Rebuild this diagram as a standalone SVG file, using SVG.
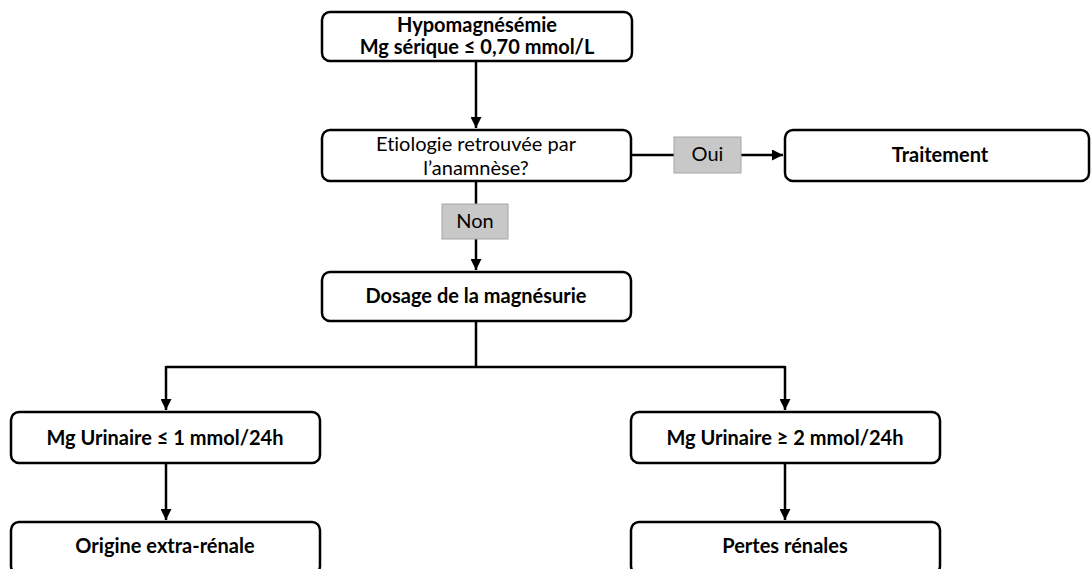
<svg xmlns="http://www.w3.org/2000/svg" width="1092" height="569" viewBox="0 0 1092 569">
<defs>
<marker id="arr" viewBox="0 0 10 10" refX="10" refY="5" markerWidth="4.4" markerHeight="4.4" orient="auto" markerUnits="strokeWidth">
<path d="M0,0 L10,5 L0,10 z" fill="#000"/>
</marker>
<style>
.box{fill:#fff;stroke:#000;stroke-width:2.5}
.lbl{fill:#c8c8c8;stroke:#a6a6a6;stroke-width:1}
.t{font-family:"Lato","Liberation Sans",sans-serif;font-size:20px;fill:#000;text-anchor:middle;font-variant-ligatures:none}
.b{font-weight:bold}
.c{fill:none;stroke:#000;stroke-width:2.5}
</style>
</defs>
<rect width="1092" height="569" fill="#fff"/>
<g id="connectors">
<path class="c" d="M476,61 V128" marker-end="url(#arr)"/>
<path class="c" d="M631,155 H674"/>
<path class="c" d="M741,155 H783" marker-end="url(#arr)"/>
<path class="c" d="M476,181 V204"/>
<path class="c" d="M476,239 V270" marker-end="url(#arr)"/>
<path class="c" d="M476,321 V367 M166,367 H785"/>
<path class="c" d="M166,366 V410" marker-end="url(#arr)"/>
<path class="c" d="M785,366 V410" marker-end="url(#arr)"/>
<path class="c" d="M166,463 V520" marker-end="url(#arr)"/>
<path class="c" d="M785,463 V520" marker-end="url(#arr)"/>
</g>
<g id="hypo">
<rect class="box" x="322" y="12" width="310" height="49" rx="8"/>
<text class="t b" x="477" y="32">Hypomagnésémie</text>
<text class="t b" x="477" y="54">Mg sérique ≤ 0,70 mmol/L</text>
</g>
<g id="etiologie">
<rect class="box" x="322" y="130" width="309" height="51" rx="8"/>
<text class="t" x="476" y="151">Etiologie retrouvée par</text>
<text class="t" x="476" y="175">l’anamnèse?</text>
</g>
<g id="oui">
<rect class="lbl" x="674" y="137" width="67" height="36"/>
<text class="t" x="707.5" y="161">Oui</text>
</g>
<g id="traitement">
<rect class="box" x="785" y="130" width="304" height="51" rx="8"/>
<text class="t b" x="940" y="162">Traitement</text>
</g>
<g id="non">
<rect class="lbl" x="442" y="204" width="66" height="35"/>
<text class="t" x="475" y="228">Non</text>
</g>
<g id="dosage">
<rect class="box" x="322" y="272" width="309" height="49" rx="8"/>
<text class="t b" x="476" y="303">Dosage de la magnésurie</text>
</g>
<g id="mg-low">
<rect class="box" x="11" y="412" width="309" height="51" rx="8"/>
<text class="t b" x="165" y="445">Mg Urinaire ≤ 1 mmol/24h</text>
</g>
<g id="mg-high">
<rect class="box" x="631" y="412" width="309" height="51" rx="8"/>
<text class="t b" x="785" y="445">Mg Urinaire ≥ 2 mmol/24h</text>
</g>
<g id="origine">
<rect class="box" x="11" y="522" width="309" height="52" rx="8"/>
<text class="t b" x="165" y="553">Origine extra-rénale</text>
</g>
<g id="pertes">
<rect class="box" x="631" y="522" width="309" height="52" rx="8"/>
<text class="t b" x="785" y="553">Pertes rénales</text>
</g>
</svg>
